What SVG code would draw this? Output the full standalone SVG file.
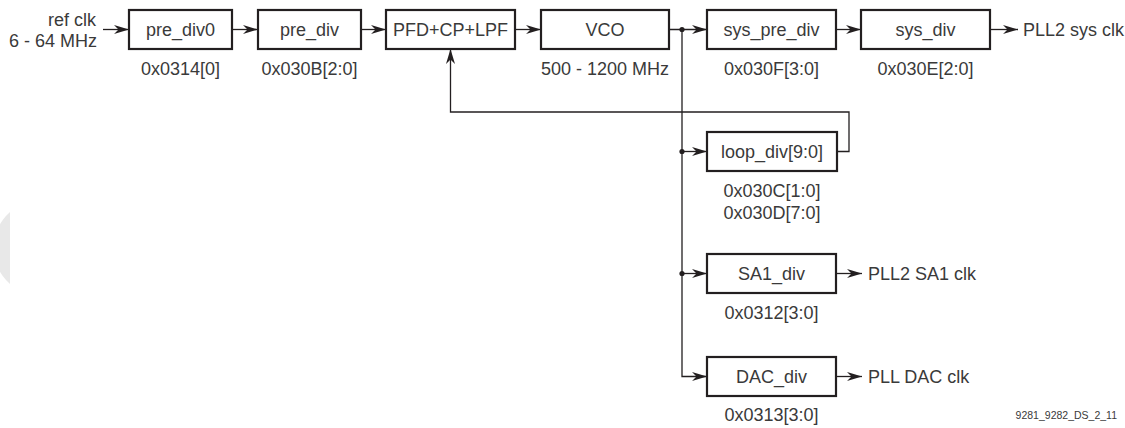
<svg xmlns="http://www.w3.org/2000/svg" width="1125" height="428" viewBox="0 0 1125 428">
  <style>
    .box { fill: #ffffff; stroke: #231f20; stroke-width: 2.2; }
    .wire { fill: none; stroke: #231f20; stroke-width: 1.3; }
    .t { font-family: "Liberation Sans", Arial, sans-serif; font-size: 18px; fill: #3a3a3a; }
    .c { text-anchor: middle; }
    .r { text-anchor: end; }
    .small { font-family: "Liberation Sans", Arial, sans-serif; font-size: 10.5px; fill: #3a3a3a; text-anchor: end; }
    .dot { fill: #231f20; }
  </style>
  <defs>
    <marker id="arr" viewBox="0 0 15 9" refX="15" refY="4.5" markerWidth="15" markerHeight="9" markerUnits="userSpaceOnUse" orient="auto">
      <path d="M0,0 L15,4.5 L0,9 L4.5,4.5 Z" fill="#231f20"/>
    </marker>
  </defs>
  <rect width="1125" height="428" fill="#ffffff"/>
  <path d="M10,212 A 48 48 0 0 0 10,284 Z" fill="#e8e8e8"/>

  <g id="connectors">
    <line class="wire" x1="103" y1="29.5" x2="129" y2="29.5" marker-end="url(#arr)"/>
    <line class="wire" x1="232" y1="29.5" x2="258" y2="29.5" marker-end="url(#arr)"/>
    <line class="wire" x1="361" y1="29.5" x2="386" y2="29.5" marker-end="url(#arr)"/>
    <line class="wire" x1="515" y1="29.5" x2="541" y2="29.5" marker-end="url(#arr)"/>
    <line class="wire" x1="669" y1="29.5" x2="707" y2="29.5" marker-end="url(#arr)"/>
    <line class="wire" x1="836" y1="29.5" x2="861" y2="29.5" marker-end="url(#arr)"/>
    <line class="wire" x1="990" y1="29.5" x2="1018" y2="29.5" marker-end="url(#arr)"/>
    <path class="wire" d="M682,29.5 V376.5 H707" marker-end="url(#arr)"/>
    <line class="wire" x1="682" y1="151.5" x2="707" y2="151.5" marker-end="url(#arr)"/>
    <line class="wire" x1="682" y1="273.5" x2="707" y2="273.5" marker-end="url(#arr)"/>
    <line class="wire" x1="836" y1="273.5" x2="862" y2="273.5" marker-end="url(#arr)"/>
    <line class="wire" x1="836" y1="376.5" x2="862" y2="376.5" marker-end="url(#arr)"/>
    <path class="wire" d="M837,151.5 H849 V112 H450.5 V49" marker-end="url(#arr)"/>
    <circle class="dot" cx="682" cy="29.5" r="2.6"/>
    <circle class="dot" cx="682" cy="151.5" r="2.6"/>
    <circle class="dot" cx="682" cy="273.5" r="2.6"/>
  </g>

  <g id="ref_clk">
    <text class="t r" x="96" y="25.5">ref clk</text>
    <text class="t r" x="97" y="46.5">6 - 64 MHz</text>
  </g>
  <g id="pre_div0">
    <rect class="box" x="129" y="10" width="103" height="39"/>
    <text class="t c" x="180.5" y="36">pre_div0</text>
    <text class="t c" x="180.5" y="74.5">0x0314[0]</text>
  </g>
  <g id="pre_div">
    <rect class="box" x="258" y="10" width="103" height="39"/>
    <text class="t c" x="309.5" y="36">pre_div</text>
    <text class="t c" x="309.5" y="74.5">0x030B[2:0]</text>
  </g>
  <g id="pfd">
    <rect class="box" x="386" y="10" width="129" height="39"/>
    <text class="t c" x="450.5" y="36">PFD+CP+LPF</text>
  </g>
  <g id="vco">
    <rect class="box" x="541" y="10" width="128" height="39"/>
    <text class="t c" x="605" y="36">VCO</text>
    <text class="t c" x="605" y="74.5">500 - 1200 MHz</text>
  </g>
  <g id="sys_pre_div">
    <rect class="box" x="707" y="10" width="129" height="39"/>
    <text class="t c" x="771.5" y="36">sys_pre_div</text>
    <text class="t c" x="771.5" y="74.5">0x030F[3:0]</text>
  </g>
  <g id="sys_div">
    <rect class="box" x="861" y="10" width="129" height="39"/>
    <text class="t c" x="925.5" y="36">sys_div</text>
    <text class="t c" x="925.5" y="74.5">0x030E[2:0]</text>
  </g>
  <g id="pll2_sys_clk">
    <text class="t" x="1023" y="36">PLL2 sys clk</text>
  </g>
  <g id="loop_div">
    <rect class="box" x="707" y="132" width="130" height="39"/>
    <text class="t c" x="772" y="158">loop_div[9:0]</text>
    <text class="t c" x="772" y="196.5">0x030C[1:0]</text>
    <text class="t c" x="772" y="218.5">0x030D[7:0]</text>
  </g>
  <g id="sa1_div">
    <rect class="box" x="707" y="254" width="129" height="39"/>
    <text class="t c" x="771.5" y="280">SA1_div</text>
    <text class="t c" x="771.5" y="319">0x0312[3:0]</text>
  </g>
  <g id="pll2_sa1_clk">
    <text class="t" x="868" y="280">PLL2 SA1 clk</text>
  </g>
  <g id="dac_div">
    <rect class="box" x="707" y="357" width="129" height="39"/>
    <text class="t c" x="771.5" y="383">DAC_div</text>
    <text class="t c" x="771.5" y="420.5">0x0313[3:0]</text>
  </g>
  <g id="pll_dac_clk">
    <text class="t" x="868" y="383">PLL DAC clk</text>
  </g>
  <g id="figure_id">
    <text class="small" x="1117" y="419">9281_9282_DS_2_11</text>
  </g>
</svg>
